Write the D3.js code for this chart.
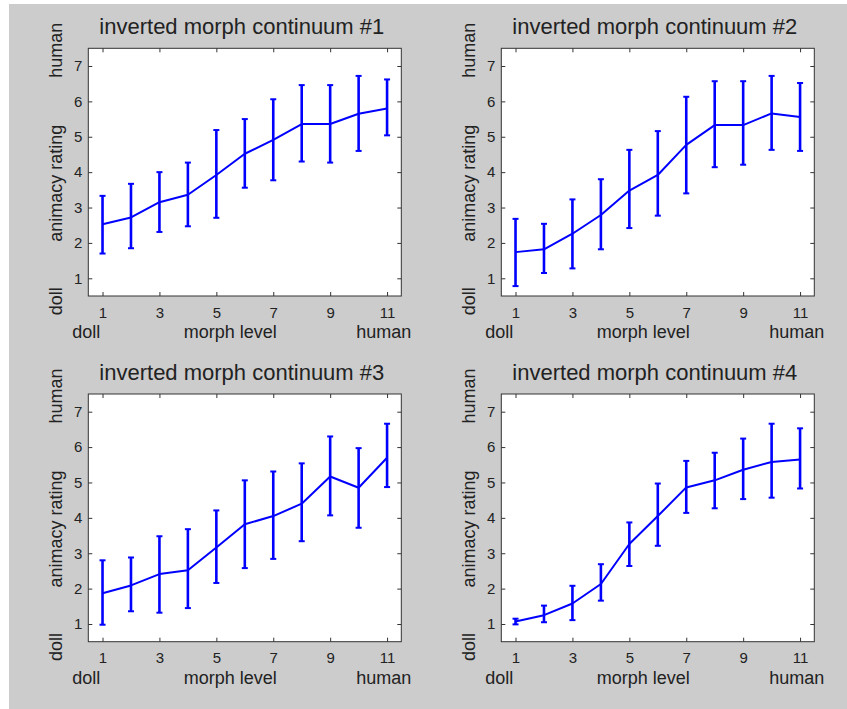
<!DOCTYPE html>
<html>
<head>
<meta charset="utf-8">
<script src="https://cdn.jsdelivr.net/npm/d3@7"></script>
<style>
  html, body { margin: 0; padding: 0; background: #fff; }
  svg { display: block; }
  text { font-family: Arial, "Liberation Sans", sans-serif; fill: #222; }
</style>
</head>
<body>
<div id="chart"></div>
<script>
// morph levels and tick labels
const morphLevels = [1, 2, 3, 4, 5, 6, 7, 8, 9, 10, 11];
const xTicks = [1, 3, 5, 7, 9, 11];
const yTicks = [1, 2, 3, 4, 5, 6, 7];
const titles = [
  'inverted morph continuum #1',
  'inverted morph continuum #2',
  'inverted morph continuum #3',
  'inverted morph continuum #4'
];

// mean animacy rating + error bar ends, one set per continuum
const mean1 = [2.53, 2.72, 3.15, 3.36, 3.92, 4.52, 4.91, 5.36, 5.36, 5.65, 5.80];
const low1  = [1.70, 1.85, 2.31, 2.47, 2.71, 3.56, 3.77, 4.30, 4.27, 4.60, 5.04];
const high1 = [3.33, 3.67, 4.00, 4.27, 5.19, 5.50, 6.06, 6.46, 6.46, 6.72, 6.62];

const mean2 = [1.74, 1.82, 2.26, 2.79, 3.48, 3.92, 4.77, 5.33, 5.33, 5.66, 5.56];
const low2  = [0.78, 1.15, 1.28, 1.82, 2.42, 2.77, 3.40, 4.14, 4.21, 4.63, 4.60];
const high2 = [2.68, 2.54, 3.23, 3.80, 4.63, 5.16, 6.13, 6.57, 6.57, 6.72, 6.52];

const mean3 = [1.87, 2.09, 2.41, 2.52, 3.16, 3.82, 4.05, 4.40, 5.17, 4.85, 5.70];
const low3  = [0.98, 1.36, 1.32, 1.45, 2.16, 2.58, 2.84, 3.34, 4.07, 3.72, 4.87];
const high3 = [2.80, 2.88, 3.48, 3.68, 4.21, 5.06, 5.31, 5.54, 6.30, 5.97, 6.66];

const mean4 = [1.07, 1.25, 1.58, 2.13, 3.26, 4.05, 4.86, 5.06, 5.36, 5.58, 5.65];
const low4  = [0.99, 1.05, 1.11, 1.66, 2.64, 3.21, 4.14, 4.27, 4.53, 4.57, 4.83];
const high4 = [1.15, 1.52, 2.08, 2.69, 3.87, 4.97, 5.61, 5.84, 6.24, 6.66, 6.53];

const means = [mean1, mean2, mean3, mean4];
const lows = [low1, low2, low3, low4];
const highs = [high1, high2, high3, high4];

const width = 847,
  height = 709,
  axW = 313,
  axH = 247.7,
  lefts = [88.3, 501.3],
  tops = [48.3, 394],
  blue = '#0000ff';

const svg = d3.select('#chart')
  .append('svg')
  .attr('width', width)
  .attr('height', height);

svg.append('rect')
  .attr('x', 9)
  .attr('y', 4)
  .attr('width', width - 9)
  .attr('height', height - 4)
  .attr('fill', '#cccccc');

const x = d3.scaleLinear().domain([0.5, 11.5]).range([0, axW]);
const y = d3.scaleLinear().domain([0.5, 7.5]).range([axH, 0]);
const fmt = d3.format('d');

titles.forEach((title, i) => {
  const g = svg.append('g')
    .attr('transform', `translate(${lefts[i % 2]},${tops[Math.floor(i / 2)]})`);

  g.append('rect')
    .attr('width', axW)
    .attr('height', axH)
    .attr('fill', '#fff');

  // ticks on all four sides, pointing inward
  g.append('g')
    .attr('transform', `translate(0,${axH})`)
    .call(d3.axisBottom(x).tickValues(xTicks).tickFormat(fmt).tickSize(-4).tickSizeOuter(0).tickPadding(11));
  g.append('g')
    .call(d3.axisLeft(y).tickValues(yTicks).tickFormat(fmt).tickSize(-4).tickSizeOuter(0).tickPadding(6));
  g.append('g')
    .call(d3.axisTop(x).tickValues(xTicks).tickSize(-4).tickSizeOuter(0).tickFormat(''));
  g.append('g')
    .attr('transform', `translate(${axW},0)`)
    .call(d3.axisRight(y).tickValues(yTicks).tickSize(-4).tickSizeOuter(0).tickFormat(''));

  g.selectAll('.domain').remove();
  g.selectAll('.tick line').attr('stroke', '#333');
  g.selectAll('.tick text')
    .attr('fill', '#222')
    .style('font-size', '15px')
    .style('font-family', 'Arial, "Liberation Sans", sans-serif');

  g.append('rect')
    .attr('width', axW)
    .attr('height', axH)
    .attr('fill', 'none')
    .attr('stroke', '#333')
    .attr('stroke-width', 1);

  // data
  const rows = morphLevels.map((m, k) => ({m: m, v: means[i][k], lo: lows[i][k], hi: highs[i][k]}));

  g.append('path')
    .datum(rows)
    .attr('fill', 'none')
    .attr('stroke', blue)
    .attr('stroke-width', 2)
    .attr('stroke-linejoin', 'round')
    .attr('d', d3.line().x(d => x(d.m)).y(d => y(d.v)));

  const bars = g.selectAll('g.bar')
    .data(rows)
    .enter()
    .append('g')
    .attr('class', 'bar')
    .attr('stroke', blue);

  bars.append('line')
    .attr('x1', d => x(d.m)).attr('x2', d => x(d.m))
    .attr('y1', d => y(d.lo)).attr('y2', d => y(d.hi))
    .attr('stroke-width', 2.6);
  bars.append('line')
    .attr('x1', d => x(d.m) - 3).attr('x2', d => x(d.m) + 3)
    .attr('y1', d => y(d.lo)).attr('y2', d => y(d.lo))
    .attr('stroke-width', 2);
  bars.append('line')
    .attr('x1', d => x(d.m) - 3).attr('x2', d => x(d.m) + 3)
    .attr('y1', d => y(d.hi)).attr('y2', d => y(d.hi))
    .attr('stroke-width', 2);

  // labels
  g.append('text')
    .attr('x', axW / 2 - 3)
    .attr('y', -14)
    .attr('text-anchor', 'middle')
    .style('font-size', '22px')
    .text(title);

  g.append('text')
    .attr('x', -16)
    .attr('y', axH + 42)
    .style('font-size', '18px')
    .text('doll');
  g.append('text')
    .attr('x', 142)
    .attr('y', axH + 42)
    .attr('text-anchor', 'middle')
    .style('font-size', '18px')
    .text('morph level');
  g.append('text')
    .attr('x', axW + 10)
    .attr('y', axH + 42)
    .attr('text-anchor', 'end')
    .style('font-size', '18px')
    .text('human');

  const sideLabels = [['human', 2], ['animacy rating', 135], ['doll', 253]];
  sideLabels.forEach(([t, cy]) => {
    g.append('text')
      .attr('transform', `translate(-26,${cy}) rotate(-90)`)
      .attr('text-anchor', 'middle')
      .style('font-size', '18px')
      .text(t);
  });
});
</script>
</body>
</html>
